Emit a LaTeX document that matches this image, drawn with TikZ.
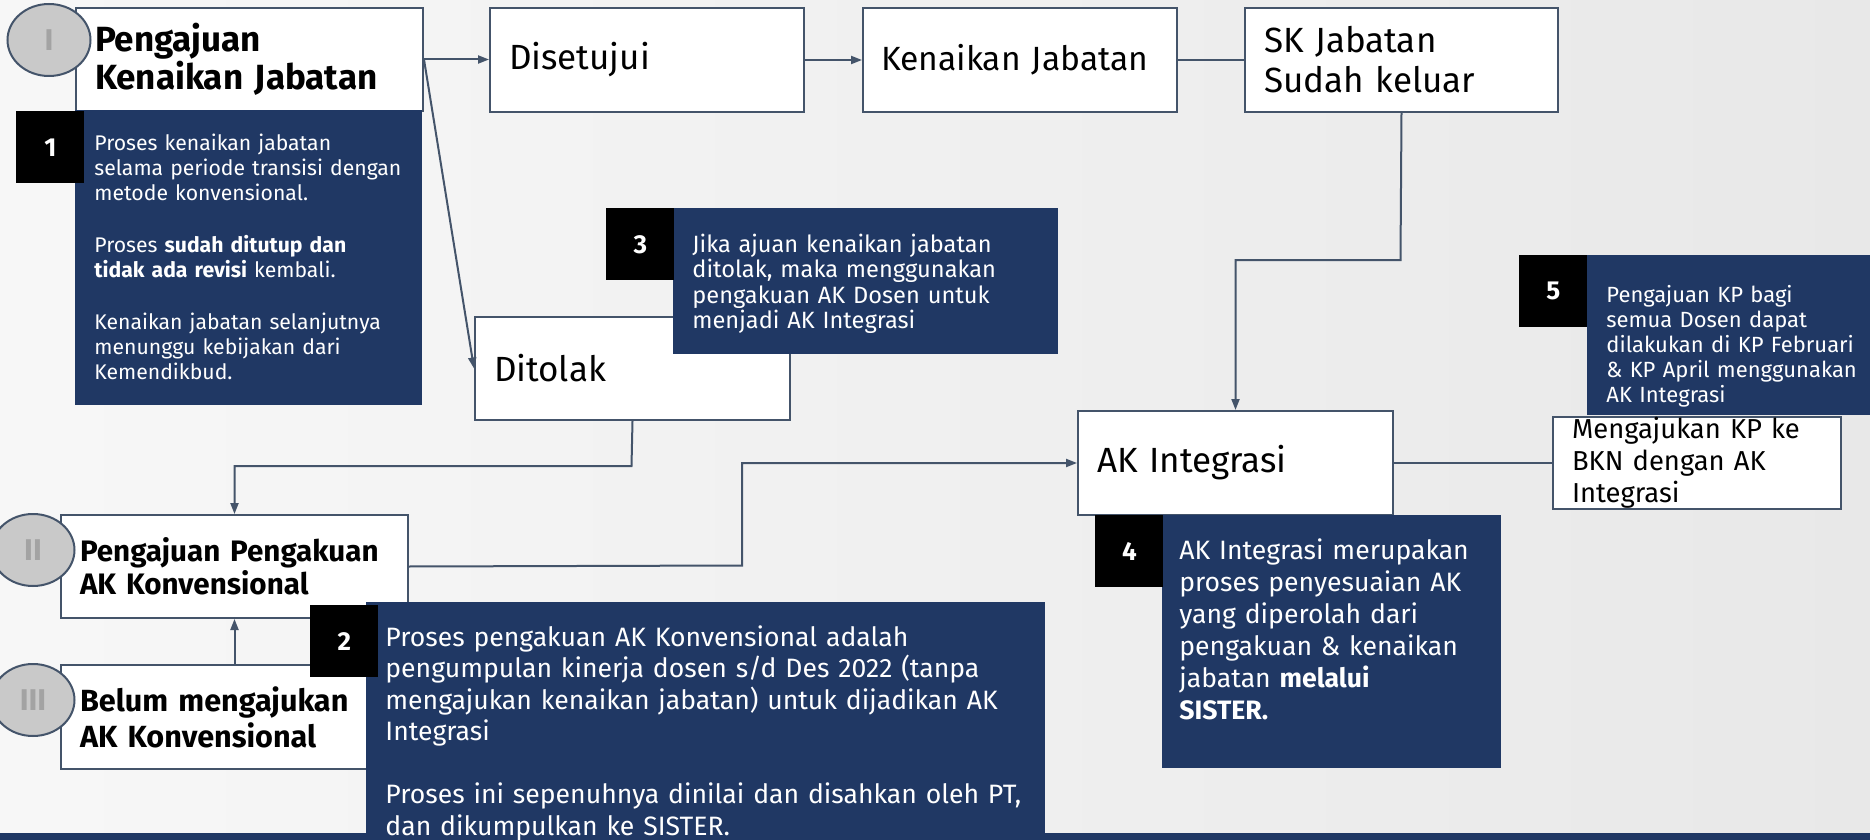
\documentclass[tikz,border=0pt]{standalone}
\usepackage{fontspec}
\setmainfont{Fira Sans}
\usetikzlibrary{arrows.meta,shapes.geometric}

\newlength{\du}
\setlength{\du}{0.5pt}
\hyphenpenalty=10000
\exhyphenpenalty=10000

\definecolor{framecolor}{HTML}{44546A}
\definecolor{notecolor}{HTML}{203864}
\definecolor{markcolor}{HTML}{C9C9C9}
\definecolor{markfont}{HTML}{A3A3A3}

\tikzset{
  flowbox/.style={rectangle, draw=framecolor, line width=1pt, fill=white,
    anchor=north west, inner xsep=19\du, inner ysep=0pt, align=left,
    font=\fontsize{17.5}{20}\selectfont},
  headbox/.style={flowbox, font=\bfseries\fontsize{15}{17}\selectfont},
  notebox/.style={rectangle, fill=notecolor, text=white, anchor=north west,
    inner xsep=19\du, inner ysep=0pt, align=left},
  numbox/.style={rectangle, fill=black, text=white, anchor=north west, inner sep=0pt,
    minimum width=68\du, minimum height=72\du, font=\bfseries\fontsize{13}{13}\selectfont},
  romanmark/.style={ellipse, draw=framecolor, line width=1pt, fill=markcolor, text=markfont,
    inner sep=0pt, minimum width=83\du, minimum height=72\du,
    font=\bfseries\fontsize{15}{15}\selectfont},
  link/.style={draw=framecolor, line width=1pt},
  flowarrow/.style={link, -{Triangle[length=5.5pt,width=4pt]}}
}

\begin{document}
\begin{tikzpicture}
\pgftransformxscale{1.000000}
\pgftransformyscale{-1.000000}
\useasboundingbox (0\du,0\du) rectangle (1870\du,840\du);
\clip (0\du,0\du) rectangle (1870\du,840\du);
% background and bottom band
\shade[left color=white!97!black, right color=white!91!black] (0\du,0\du) rectangle (1870\du,840\du);
\fill[notecolor] (0\du,833\du) rectangle (1870\du,840\du);

% flow boxes
\node[headbox, font=\bfseries\fontsize{17.5}{19}\selectfont, text width=309\du, minimum height=103\du] (kjBox) at (75\du,7\du) {Pengajuan\\Kenaikan Jabatan};
\node[flowbox, text width=276\du, minimum height=104\du] (setuju) at (489\du,7\du) {Disetujui};
\node[flowbox, font=\fontsize{16.8}{20}\selectfont, inner xsep=18\du, text width=278\du, minimum height=104\du] (naik) at (862\du,7\du) {Kenaikan Jabatan};
\node[flowbox, text width=275\du, minimum height=104\du] (skBox) at (1244\du,7\du) {SK Jabatan\\Sudah keluar};
\node[flowbox, text width=277\du, minimum height=103\du] (tolak) at (474\du,316\du) {Ditolak};
\node[flowbox, text width=277\du, minimum height=104\du] (akInt) at (1077\du,410\du) {AK Integrasi};
\node[flowbox, font=\fontsize{13.7}{16}\selectfont, text width=250\du, minimum height=92\du] (bkn) at (1552\du,416\du) {Mengajukan KP ke\\BKN dengan AK\\Integrasi};
\node[headbox, font=\bfseries\fontsize{14.8}{16.5}\selectfont, text width=309\du, minimum height=103\du] (akKonv) at (60\du,514\du) {Pengajuan Pengakuan\\AK Konvensional};
\node[headbox, font=\bfseries\fontsize{15.3}{18}\selectfont, text width=309\du, minimum height=104\du] (belum) at (60\du,664\du) {Belum mengajukan\\AK Konvensional};

% connectors
\draw[flowarrow] (kjBox.east) -- (setuju.west |- kjBox.east);
\draw[flowarrow] (kjBox.east) -- (tolak.west);
\draw[flowarrow] (setuju.east) -- (naik.west);
\draw[link] (naik.east) -- (skBox.west);
\coordinate (skTurn) at (1400.5\du,260\du);
\draw[flowarrow] (skBox.south) -- (skTurn) -| (akInt.north);
\coordinate (tolakTurn) at (631.5\du,466\du);
\draw[flowarrow] (tolak.south) -- (tolakTurn) -| (akKonv.north);
\draw[flowarrow] (belum.north) -- (akKonv.south);
\coordinate (konvTurn) at (742\du,565.5\du);
\draw[flowarrow] (akKonv.east) -- (konvTurn) |- (akInt.west);
\draw[link] (akInt.east) -- (bkn.west);

% notes
\node[notebox, text width=309\du, text height=40\du, text depth=255\du, font=\fontsize{10.6}{12.5}\selectfont] (note1) at (75\du,110\du) {Proses kenaikan jabatan\\selama periode transisi dengan\\metode konvensional.\\[13.5pt]Proses \textbf{sudah ditutup dan}\\\textbf{tidak ada revisi} kembali.\\[13.5pt]Kenaikan jabatan selanjutnya\\menunggu kebijakan dari\\Kemendikbud.};
\node[notebox, text width=347\du, text height=44\du, text depth=102\du, font=\fontsize{11.8}{12.75}\selectfont] (note3) at (673\du,208\du) {Jika ajuan kenaikan jabatan\\ditolak, maka menggunakan\\pengakuan AK Dosen untuk\\menjadi AK Integrasi};
\node[notebox, text width=260\du, text height=47\du, text depth=113\du, font=\fontsize{11}{12.5}\selectfont] (note5) at (1587\du,255\du) {Pengajuan KP bagi\\semua Dosen dapat\\dilakukan di KP Februari\\\& KP April menggunakan\\AK Integrasi};
\node[notebox, text width=641\du, text height=44\du, text depth=240\du, font=\fontsize{13.3}{15.75}\selectfont] (note2) at (366\du,602\du) {Proses pengakuan AK Konvensional adalah\\pengumpulan kinerja dosen s/d Des 2022 (tanpa\\mengajukan kenaikan jabatan) untuk dijadikan AK\\Integrasi\\[15.75pt]Proses ini sepenuhnya dinilai dan disahkan oleh PT,\\dan dikumpulkan ke SISTER.};
\node[notebox, inner xsep=17\du, text width=305\du, text height=44\du, text depth=209\du, font=\fontsize{13.3}{16}\selectfont] (note4) at (1162\du,515\du) {AK Integrasi merupakan\\proses penyesuaian AK\\yang diperolah dari\\pengakuan \& kenaikan\\jabatan \textbf{melalui}\\\textbf{SISTER.}};

% number tags
\node[numbox] (num1) at (16\du,111\du) {1};
\node[numbox] (num2) at (310\du,605\du) {2};
\node[numbox] (num3) at (606\du,208\du) {3};
\node[numbox] (num4) at (1095\du,515\du) {4};
\node[numbox] (num5) at (1519\du,255\du) {5};

% stage marks
\node[romanmark] (markI) at (49\du,40\du) {I};
\node[romanmark] (markII) at (33\du,550\du) {II};
\node[romanmark] (markIII) at (33\du,700\du) {III};
\end{tikzpicture}
\end{document}
